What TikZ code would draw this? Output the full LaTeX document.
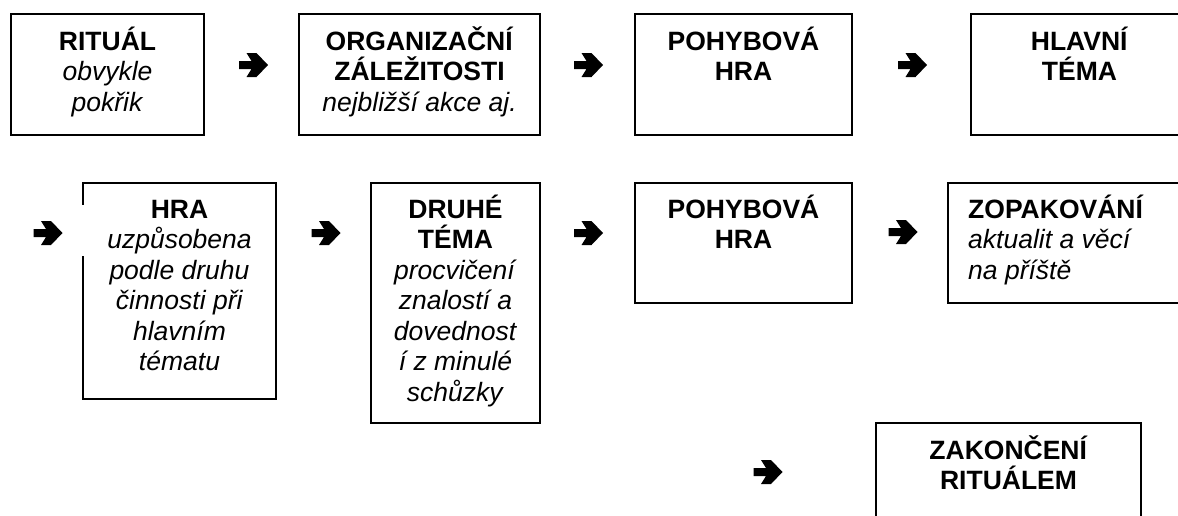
\documentclass[tikz,border=0pt]{standalone}
\usepackage{fontspec}
\setmainfont{Liberation Sans}
\tikzset{
  stagebox/.style={draw, line width=2pt, anchor=north west, inner sep=0pt, outer sep=0pt},
  % the base of a multi-line text is the baseline of its last line
  stagetext/.style={anchor=base, align=center, inner sep=0pt,
    font=\fontsize{26.5}{30.5}\selectfont},
  leftstagetext/.style={stagetext, anchor=base west, align=left},
}
% heavy wedge arrow (like the ➔ dingbat), centred on a named coordinate
\newcommand\wedgearrow[1]{%
  \fill (#1) ++(-14.5,-4) -- ++(12.5,0) -- ++(-5,-8) -- ++(10,0)
    -- ++(11.5,12) -- ++(-11.5,12) -- ++(-10,0) -- ++(5,-8) -- ++(-12.5,0) -- cycle;}
\begin{document}
\begin{tikzpicture}[x=1pt, y=-1pt]
\useasboundingbox (0,0) rectangle (1178,515);
\clip (0,0) rectangle (1178,515);

% first row
\node[stagebox, minimum width=193pt, minimum height=121pt] (ritual) at (11,14) {};
\node[stagebox, minimum width=241pt, minimum height=121pt] (organ) at (299,14) {};
\node[stagebox, minimum width=217pt, minimum height=121pt] (pohyb1) at (635,14) {};
\node[stagebox, minimum width=217pt, minimum height=121pt] (hlavni) at (971,14) {};

% second row
\node[stagebox, minimum width=193pt, minimum height=216pt] (hra) at (83,183) {};
\node[stagebox, minimum width=169pt, minimum height=240pt] (druhe) at (371,183) {};
\node[stagebox, minimum width=217pt, minimum height=120pt] (pohyb2) at (635,183) {};
\node[stagebox, minimum width=240pt, minimum height=120pt] (zopak) at (948,183) {};

% last row
\node[stagebox, minimum width=265pt, minimum height=110pt] (zakon) at (876,423) {};

% gap in the left edge of the game box
\fill[white] (80,205) rectangle (86,256);

% texts
\node[stagetext] (ritualtext) at (107.5,111)
  {\textbf{RITUÁL}\\\textit{obvykle}\\\textit{pokřik}};
\node[stagetext] (organtext) at (419.5,111)
  {\textbf{ORGANIZAČNÍ}\\\textbf{ZÁLEŽITOSTI}\\\textit{nejbližší akce aj.}};
\node[stagetext] (pohyb1text) at (743.5,80.5)
  {\textbf{POHYBOVÁ}\\\textbf{HRA}};
\node[stagetext] (hlavnitext) at (1079.5,80.5)
  {\textbf{HLAVNÍ}\\\textbf{TÉMA}};
\node[stagetext] (hratext) at (179.5,370.5)
  {\textbf{HRA}\\\textit{uzpůsobena}\\\textit{podle druhu}\\\textit{činnosti při}\\\textit{hlavním}\\\textit{tématu}};
\node[stagetext] (druhetext) at (455.5,401)
  {\textbf{DRUHÉ}\\\textbf{TÉMA}\\\textit{procvičení}\\\textit{znalostí a}\\\textit{dovednost}\\\textit{í z minulé}\\\textit{schůzky}};
\node[stagetext] (pohyb2text) at (743.5,248.5)
  {\textbf{POHYBOVÁ}\\\textbf{HRA}};
\node[leftstagetext] (zopaktext) at (968,279)
  {\textbf{ZOPAKOVÁNÍ}\\\textit{aktualit a věcí}\\\textit{na příště}};
\node[stagetext] (zakontext) at (1008.5,489.5)
  {\textbf{ZAKONČENÍ}\\\textbf{RITUÁLEM}};

% arrows between the stages
\coordinate (a1) at (253.5,65);
\coordinate (a2) at (588.5,65);
\coordinate (a3) at (912.5,65);
\coordinate (a4) at (48,233);
\coordinate (a5) at (326,233);
\coordinate (a6) at (588.5,233);
\coordinate (a7) at (903,232);
\coordinate (a8) at (768,472);
\foreach \a in {a1,a2,a3,a4,a5,a6,a7,a8} {\wedgearrow{\a}}
\end{tikzpicture}
\end{document}
